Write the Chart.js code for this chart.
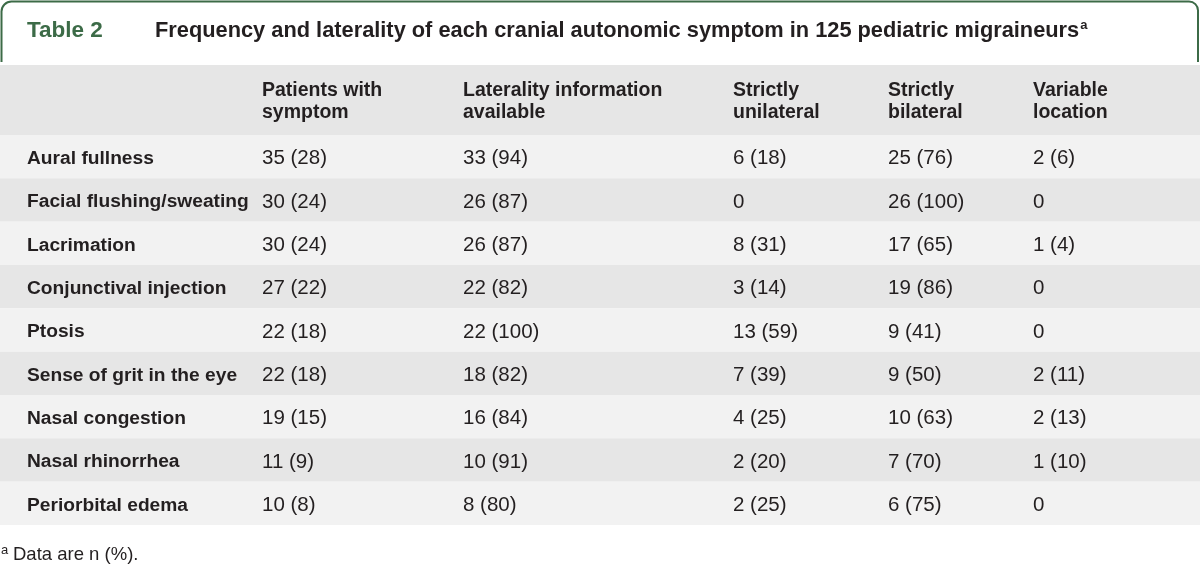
<!DOCTYPE html>
<html>
<head>
<meta charset="utf-8">
<script src="https://cdn.jsdelivr.net/npm/chart.js@4"></script>
<style>
  html, body { margin: 0; padding: 0; background: #ffffff; }
  #wrap { width: 1200px; height: 567px; position: relative; }
  canvas { display: block; }
</style>
</head>
<body>
<div id="wrap"><canvas id="c" width="1200" height="567"></canvas></div>
<script>
// ---- Data ----
const tableLabel = 'Table 2';
const tableTitle = 'Frequency and laterality of each cranial autonomic symptom in 125 pediatric migraineurs';
const footnote = 'Data are n (%).';
const columnHeaders = [
  ['', ''],
  ['Patients with', 'symptom'],
  ['Laterality information', 'available'],
  ['Strictly', 'unilateral'],
  ['Strictly', 'bilateral'],
  ['Variable', 'location']
];
const symptoms = [
  'Aural fullness',
  'Facial flushing/sweating',
  'Lacrimation',
  'Conjunctival injection',
  'Ptosis',
  'Sense of grit in the eye',
  'Nasal congestion',
  'Nasal rhinorrhea',
  'Periorbital edema'
];
const patientsN   = [35, 30, 30, 27, 22, 22, 19, 11, 10];
const patientsPct = [28, 24, 24, 22, 18, 18, 15, 9, 8];
const lateralityN   = [33, 26, 26, 22, 22, 18, 16, 10, 8];
const lateralityPct = [94, 87, 87, 82, 100, 82, 84, 91, 80];
const unilateralN   = [6, 0, 8, 3, 13, 7, 4, 2, 2];
const unilateralPct = [18, null, 31, 14, 59, 39, 25, 20, 25];
const bilateralN   = [25, 26, 17, 19, 9, 9, 10, 7, 6];
const bilateralPct = [76, 100, 65, 86, 41, 50, 63, 70, 75];
const variableN   = [2, 0, 1, 0, 0, 2, 2, 1, 0];
const variablePct = [6, null, 4, null, null, 11, 13, 10, null];

function fmt(n, p) { return p === null || p === undefined ? String(n) : n + ' (' + p + ')'; }

const valueColumns = [
  [patientsN, patientsPct],
  [lateralityN, lateralityPct],
  [unilateralN, unilateralPct],
  [bilateralN, bilateralPct],
  [variableN, variablePct]
];

// ---- Layout / style ----
const FONT = '"Liberation Sans", Arial, Helvetica, sans-serif';
const GREEN = '#3c6b47';
const TEXT = '#231f20';
const colX = [27, 262, 463, 733, 888, 1033];

const tablePlugin = {
  id: 'tablePlugin',
  beforeDatasetsDraw(chart) {
    const ctx = chart.ctx;
    const y = chart.scales.y;
    const x = chart.scales.x;
    const W = chart.width;
    const step = y.getPixelForValue(1) - y.getPixelForValue(0);
    ctx.save();

    // Frame line at top
    ctx.strokeStyle = GREEN;
    ctx.lineWidth = 2;
    ctx.beginPath();
    ctx.moveTo(1.5, 62);
    ctx.lineTo(1.5, 11);
    ctx.arcTo(1.5, 1.5, 11, 1.5, 10);
    ctx.lineTo(W - 11, 1.5);
    ctx.arcTo(W - 2, 1.5, W - 2, 11, 9);
    ctx.lineTo(W - 2, 62);
    ctx.stroke();

    // Title
    ctx.textBaseline = 'middle';
    ctx.textAlign = 'left';
    ctx.fillStyle = GREEN;
    ctx.font = 'bold 22.5px ' + FONT;
    ctx.fillText(tableLabel, 27, 31);
    ctx.fillStyle = TEXT;
    ctx.font = 'bold 21.8px ' + FONT;
    ctx.fillText(tableTitle, 155, 31);
    const tw = ctx.measureText(tableTitle).width;
    ctx.font = 'bold 13px ' + FONT;
    ctx.fillText('a', 155 + tw + 1, 25);

    // Header band
    const top = y.getPixelForValue(0) - step / 2;
    ctx.fillStyle = '#e6e6e6';
    ctx.fillRect(0, 65, W, top - 65);
    ctx.fillStyle = TEXT;
    ctx.font = 'bold 19.5px ' + FONT;
    columnHeaders.forEach((h, c) => {
      const px = x.getPixelForValue(colX[c]);
      ctx.fillText(h[0], px, 91);
      ctx.fillText(h[1], px, 113);
    });

    // Rows
    symptoms.forEach((s, i) => {
      const cy = y.getPixelForValue(i);
      ctx.fillStyle = i % 2 === 0 ? '#f2f2f2' : '#e6e6e6';
      ctx.fillRect(0, cy - step / 2, W, step);
      ctx.fillStyle = TEXT;
      ctx.font = 'bold 19.2px ' + FONT;
      ctx.fillText(s, x.getPixelForValue(colX[0]), cy + 2);
      ctx.font = '20.5px ' + FONT;
      valueColumns.forEach((col, c) => {
        ctx.fillText(fmt(col[0][i], col[1][i]), x.getPixelForValue(colX[c + 1]), cy + 2);
      });
    });

    // Footnote
    const bottom = y.getPixelForValue(symptoms.length - 1) + step / 2;
    ctx.fillStyle = TEXT;
    ctx.font = '13px ' + FONT;
    ctx.fillText('a', 1, bottom + 25);
    ctx.font = '18.5px ' + FONT;
    ctx.fillText(footnote, 13, bottom + 30);
    ctx.restore();
  }
};

new Chart(document.getElementById('c'), {
  type: 'bar',
  data: { labels: symptoms, datasets: [] },
  options: {
    indexAxis: 'y',
    responsive: false,
    animation: false,
    devicePixelRatio: 1,
    layout: { padding: { top: 135, bottom: 42, left: 0, right: 0 } },
    plugins: { legend: { display: false }, tooltip: { enabled: false }, title: { display: false } },
    scales: {
      y: { type: 'category', offset: true, display: false },
      x: { type: 'linear', min: 0, max: 1200, display: false }
    }
  },
  plugins: [tablePlugin]
});
</script>
</body>
</html>
